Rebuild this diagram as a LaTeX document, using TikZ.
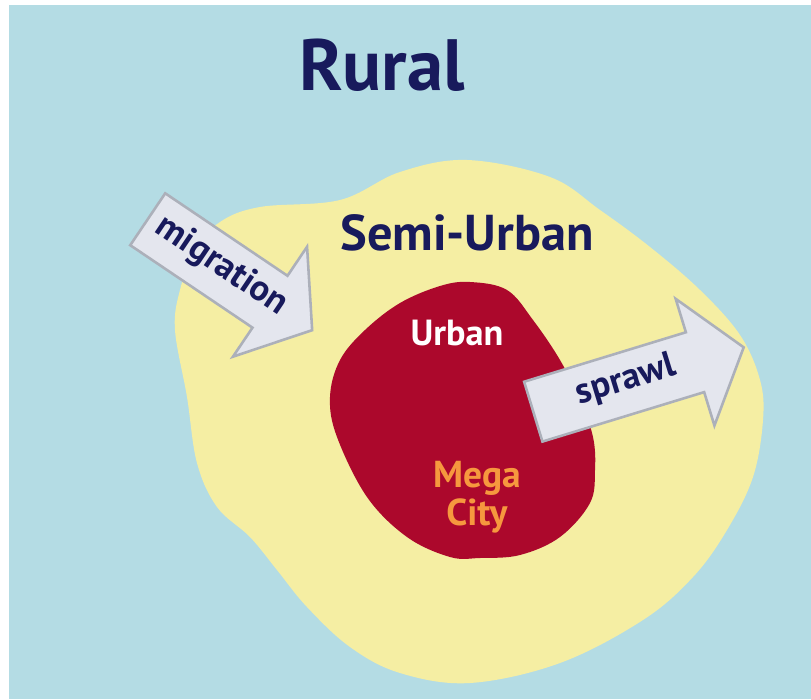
\documentclass[tikz,border=0pt]{standalone}
\usepackage{fontspec}
\setmainfont{PT Sans}
\usetikzlibrary{shapes.arrows}

\definecolor{ruralblue}{RGB}{180,220,228}
\definecolor{semiyellow}{RGB}{245,238,163}
\definecolor{megared}{RGB}{172,8,44}
\definecolor{navy}{RGB}{24,26,92}
\definecolor{megaorange}{RGB}{246,152,62}
\definecolor{arrowfill}{RGB}{228,230,238}
\definecolor{arrowgray}{RGB}{172,176,186}

\begin{document}
\begin{tikzpicture}[x=0.03cm, y=-0.03cm, every node/.style={font=\bfseries},
    bigarrow/.style={single arrow, draw=arrowgray, fill=arrowfill, line width=2.2pt,
        text=navy, single arrow head extend=1.05cm, single arrow tip angle=105,
        inner xsep=0pt, inner ysep=0.5cm, text height=0.6cm, text depth=0.2cm,
        font=\bfseries\fontsize{31}{34}\selectfont}]
    % Background
    \fill[white] (0,0) rectangle (811,699);
    \fill[ruralblue] (9,5) rectangle (811,699);

    % Regions
    \fill[semiyellow] plot[smooth cycle, tension=0.6] coordinates {(467,160) (550,177) (600,210) (650,247) (700,290) (740,335) (760,380) (763,420) (753,477) (727,530) (693,577) (643,620) (560,663) (470,683) (400,673) (350,647) (307,607) (277,570) (250,537) (217,507) (197,463) (187,397) (175,330) (180,290) (195,250) (220,222) (260,207) (340,200) (400,172)};
    \fill[megared] plot[smooth cycle, tension=0.6] coordinates {(470,282) (507,290) (533,320) (560,360) (580,400) (593,437) (595,470) (590,503) (560,537) (520,555) (480,558) (450,557) (407,537) (367,497) (337,437) (330,397) (340,360) (365,330) (400,303) (440,286)};

    % Labels
    \node[anchor=base, text=navy, font=\bfseries\fontsize{62}{66}\selectfont] (rural) at (382,90) {Rural};
    \node[anchor=base, text=navy, font=\bfseries\fontsize{43}{46}\selectfont] (semi) at (467,250) {Semi-Urban};
    \node[anchor=base, text=white, font=\bfseries\fontsize{31}{34}\selectfont] (urban) at (457,345) {Urban};
    \node[align=center, text=megaorange, font=\bfseries\fontsize{32}{32.5}\selectfont] (mega) at (477,497) {Mega\\City};

    % Arrows
    \node[bigarrow, rotate=-34, minimum height=5.95cm] (migration) at (220,268) {migration};
    \node[bigarrow, rotate=17, minimum height=6.6cm] (sprawl) at (627,383) {sprawl};
\end{tikzpicture}
\end{document}
